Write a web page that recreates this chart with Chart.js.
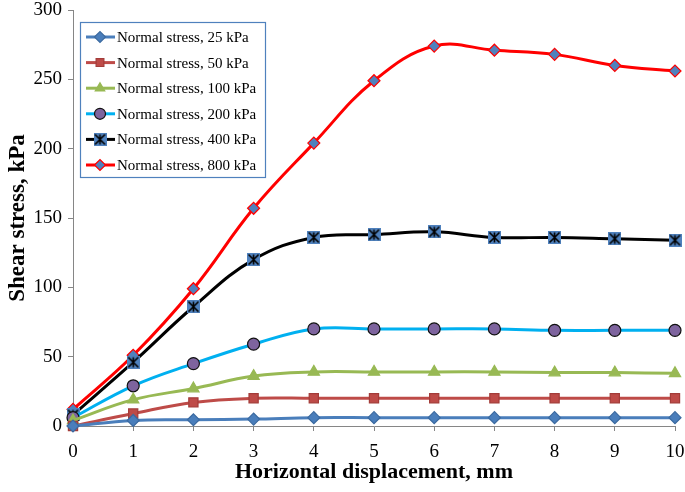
<!DOCTYPE html>
<html>
<head>
<meta charset="utf-8">
<script src="https://cdn.jsdelivr.net/npm/chart.js@4.4.1/dist/chart.umd.min.js"></script>
<style>
  html, body { margin: 0; padding: 0; background: #fff; }
  #wrap { width: 685px; height: 492px; }
</style>
</head>
<body>
<div id="wrap"><canvas id="chart" width="685" height="492"></canvas></div>
<script>
var displacement = [0, 1, 2, 3, 4, 5, 6, 7, 8, 9, 10];
var seriesNames = ['Normal stress, 25 kPa', 'Normal stress, 50 kPa', 'Normal stress, 100 kPa',
                   'Normal stress, 200 kPa', 'Normal stress, 400 kPa', 'Normal stress, 800 kPa'];
var stress25  = [0, 4, 4.5, 5, 6, 6, 6, 6, 6, 6, 6];
var stress50  = [0, 9, 17, 20, 20, 20, 20, 20, 20, 20, 20];
var stress100 = [4, 19, 27, 36, 39, 39, 39, 39, 38.5, 38.5, 38];
var stress200 = [6, 29, 45, 59, 70, 70, 70, 70, 69, 69, 69];
var stress400 = [8, 46, 86, 120, 136, 138, 140, 136, 136, 135, 134];
var stress800 = [12, 51, 99, 157, 204, 249, 274, 271, 268, 260, 256];
var yTicks = [0, 50, 100, 150, 200, 250, 300];

// blue square with black asterisk, used for the 400 kPa series
function starBox(size) {
  var c = document.createElement('canvas');
  c.width = size; c.height = size;
  var g = c.getContext('2d');
  g.fillStyle = '#4F81BD';
  g.fillRect(0, 0, size, size);
  g.strokeStyle = '#000';
  g.lineWidth = 1.6;
  var m = size / 2, r = size / 2 - 1.5;
  g.beginPath();
  g.moveTo(m, m - r); g.lineTo(m, m + r);
  g.moveTo(m - r, m - r); g.lineTo(m + r, m + r);
  g.moveTo(m + r, m - r); g.lineTo(m - r, m + r);
  g.stroke();
  return c;
}

function pts(arr) {
  return arr.map(function (v, i) { return { x: displacement[i], y: v }; });
}

var styles = [
  { line: '#4A7EBB', fill: '#4A7EBB', border: '#3B6AA0', style: 'rectRot', r: 6 },
  { line: '#BE4B48', fill: '#BE4B48', border: '#A33C39', style: 'rect', r: 6.5 },
  { line: '#98B954', fill: '#98B954', border: '#98B954', style: 'triangle', r: 6.5 },
  { line: '#00B0F0', fill: '#7E649E', border: '#111', style: 'circle', r: 6 },
  { line: '#000000', fill: '#4F81BD', border: '#000', style: starBox(13), r: 6.5 },
  { line: '#FF0000', fill: '#4F81BD', border: '#FF0000', style: 'rectRot', r: 6 }
];
var values = [stress25, stress50, stress100, stress200, stress400, stress800];

var datasets = values.map(function (arr, i) {
  var s = styles[i];
  return {
    label: seriesNames[i],
    data: pts(arr),
    borderColor: s.line,
    backgroundColor: s.fill,
    borderWidth: 3,
    tension: 0.4,
    pointStyle: s.style,
    pointRadius: s.r,
    pointBackgroundColor: s.fill,
    pointBorderColor: s.border,
    pointBorderWidth: 1.2,
    clip: false
  };
});

var serif = '"Liberation Serif", "Times New Roman", serif';

var boxLegend = {
  id: 'boxLegend',
  afterDraw: function (chart) {
    var ctx = chart.ctx;
    var x0 = 80, y0 = 22, w = 185, h = 155;
    ctx.save();
    ctx.fillStyle = '#fff';
    ctx.fillRect(x0, y0, w, h);
    ctx.strokeStyle = '#4F81BD';
    ctx.lineWidth = 1.2;
    ctx.strokeRect(x0 + 0.5, y0 + 0.5, w, h);
    ctx.font = '15px ' + serif;
    ctx.textBaseline = 'middle';
    chart.data.datasets.forEach(function (ds, i) {
      var y = y0 + 15 + i * 25.6;
      ctx.strokeStyle = ds.borderColor;
      ctx.lineWidth = 3;
      ctx.beginPath();
      ctx.moveTo(x0 + 6, y); ctx.lineTo(x0 + 35, y);
      ctx.stroke();
      ctx.fillStyle = ds.pointBackgroundColor;
      ctx.strokeStyle = ds.pointBorderColor;
      ctx.lineWidth = 1.2;
      Chart.helpers.drawPoint(ctx, { pointStyle: ds.pointStyle, radius: 5.5, borderWidth: 1.2, rotation: 0 }, x0 + 20, y);
      ctx.fillStyle = '#000';
      ctx.fillText(ds.label, x0 + 37, y + 1);
    });
    ctx.restore();
  }
};

new Chart(document.getElementById('chart'), {
  type: 'line',
  data: { datasets: datasets },
  options: {
    responsive: false,
    animation: false,
    layout: { padding: { top: 10, right: 10, left: 0, bottom: 0 } },
    plugins: { legend: { display: false }, tooltip: { enabled: false } },
    scales: {
      x: {
        type: 'linear',
        min: 0, max: 10,
        grid: { drawOnChartArea: false, color: '#868686', tickLength: 5 },
        border: { color: '#868686', width: 1 },
        ticks: { stepSize: 1, color: '#000', font: { family: serif, size: 19 }, padding: 10 },
        title: { display: true, text: 'Horizontal displacement, mm', color: '#000',
                 font: { family: serif, size: 22, weight: 'bold' }, padding: { top: 2, bottom: 6 } },
        afterFit: function (s) { s.height = 66; s.paddingRight = 0; s.paddingLeft = 0; }
      },
      y: {
        min: 0, max: 300,
        afterBuildTicks: function (s) { s.ticks = yTicks.map(function (v) { return { value: v }; }); },
        grid: { drawOnChartArea: false, color: '#868686', tickLength: 5 },
        border: { color: '#868686', width: 1 },
        ticks: { color: '#000', font: { family: serif, size: 19 }, padding: 6 },
        title: { display: true, text: 'Shear stress, kPa', color: '#000',
                 font: { family: serif, size: 23, weight: 'bold' }, padding: { bottom: 2 } },
        afterFit: function (s) { s.width = 73; s.paddingTop = 0; s.paddingBottom = 0; }
      }
    }
  },
  plugins: [boxLegend]
});
</script>
</body>
</html>
